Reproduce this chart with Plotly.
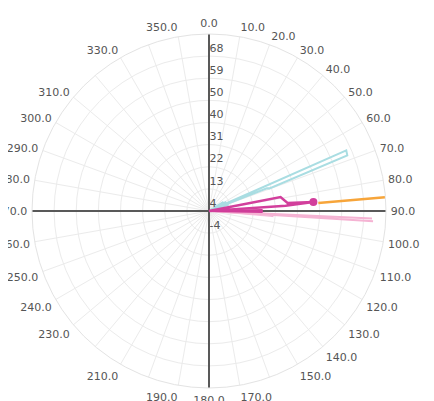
import plotly.graph_objects as go

# Radial scale (ticks every 100/11 starting at -50/11; labels truncated)
r_min = -50 / 11
r_step = 100 / 11
r_max = r_min + 8 * r_step
radial_ticks = [r_min + i * r_step for i in range(9)]
radial_labels = ["-4", "4", "13", "22", "31", "40", "50", "59", "68"]

angular_ticks = list(range(0, 360, 10))
hidden_angles = [160, 200, 220, 320, 340]
angular_labels = ["" if a in hidden_angles else f"{a:.1f}" for a in angular_ticks]

# Series (theta in degrees, r in data units)
cyan_theta = [60, 66.2, 68.1, 69.5, 68.5, 70, 72, 75, 70]
cyan_r = [r_min, 57.1, 56.7, 22.0, 21.0, r_min, 4.0, r_min, 3.0]

cyan2_theta = [62, 65, 58]
cyan2_r = [3.5, r_min, 2.5]

magenta_theta = [85, 79.0, 84.2, 85.1, 86.0, 88.0]
magenta_r = [r_min, 25.4, 27.9, 38.5, 27.0, r_min]

magenta_band_theta = [89.0, 90.0, 91.0]
magenta_band_r = [17.5, r_min, 17.5]

marker_theta = [85.1]
marker_r = [38.5]

orange_theta = [85.8, 85.5]
orange_r = [40.5, 68.0]

pink_theta = [92.6, 93.8, 93.6]
pink_r = [62.5, r_min, 63.0]

pink_fill_theta = [92.0, 100.0, 95.0, 92.0]
pink_fill_r = [18.0, r_min, 22.0, 18.0]

cross_theta_v = [0, 180]
cross_theta_h = [270, 90]
cross_r = [r_max, r_max]

fig = go.Figure()

fig.add_trace(go.Scatterpolar(theta=pink_fill_theta, r=pink_fill_r, mode="lines",
                              fill="toself", fillcolor="rgba(240,150,200,0.35)",
                              line=dict(color="rgba(240,150,200,0.5)", width=1)))
fig.add_trace(go.Scatterpolar(theta=pink_theta, r=pink_r, mode="lines",
                              line=dict(color="#f5b3d3", width=2)))
fig.add_trace(go.Scatterpolar(theta=cyan_theta, r=cyan_r, mode="lines",
                              line=dict(color="#a9dde2", width=2)))
fig.add_trace(go.Scatterpolar(theta=cyan2_theta, r=cyan2_r, mode="lines",
                              line=dict(color="#a9dde2", width=2)))
fig.add_trace(go.Scatterpolar(theta=cross_theta_v, r=cross_r, mode="lines",
                              line=dict(color="#595959", width=2)))
fig.add_trace(go.Scatterpolar(theta=cross_theta_h, r=cross_r, mode="lines",
                              line=dict(color="#595959", width=2)))
fig.add_trace(go.Scatterpolar(theta=magenta_band_theta, r=magenta_band_r, mode="lines",
                              fill="toself", fillcolor="#cf3d99",
                              line=dict(color="#cf3d99", width=2)))
fig.add_trace(go.Scatterpolar(theta=magenta_theta, r=magenta_r, mode="lines",
                              line=dict(color="#d23f9c", width=2.5)))
fig.add_trace(go.Scatterpolar(theta=marker_theta, r=marker_r, mode="markers",
                              marker=dict(color="#d23f9c", size=8)))
fig.add_trace(go.Scatterpolar(theta=orange_theta, r=orange_r, mode="lines",
                              line=dict(color="#f7a53a", width=2.5)))

font = dict(family="DejaVu Sans, Verdana, sans-serif", size=11, color="#555555")

fig.update_layout(
    width=434, height=401,
    margin=dict(l=24, r=56, t=26, b=21),
    paper_bgcolor="white",
    showlegend=False,
    font=font,
    polar=dict(
        bgcolor="white",
        angularaxis=dict(
            rotation=90, direction="clockwise",
            tickmode="array", tickvals=angular_ticks, ticktext=angular_labels,
            showgrid=True, gridcolor="#ebebeb", gridwidth=1,
            showline=True, linecolor="#e3e3e3", linewidth=1,
            ticks="outside", ticklen=2, tickcolor="rgba(0,0,0,0)",
            tickfont=font,
        ),
        radialaxis=dict(
            range=[r_min, r_max], angle=90,
            tickmode="array", tickvals=radial_ticks,
            ticktext=["<br><br>" + t for t in radial_labels],
            showgrid=True, gridcolor="#ebebeb", gridwidth=1,
            showline=False, ticks="", tickangle=90,
            tickfont=font,
        ),
    ),
)

fig.write_html("out.html")
